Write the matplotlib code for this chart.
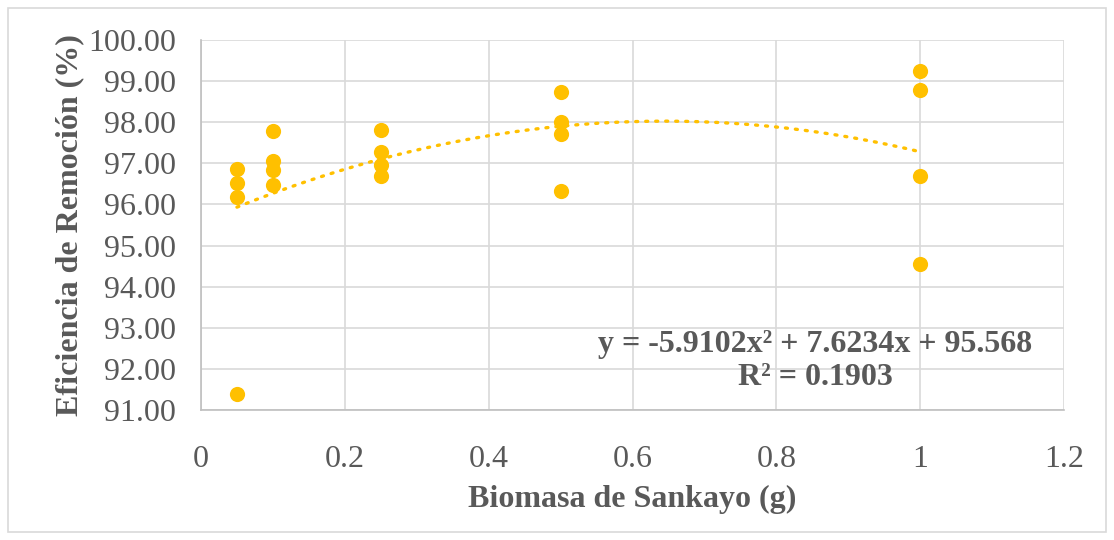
import matplotlib.pyplot as plt
import numpy as np
from matplotlib.patches import Rectangle
from matplotlib.ticker import FuncFormatter

# Biomasa (g) y eficiencia de remocion (%)
biomasa = [0.05, 0.05, 0.05, 0.05,
           0.1, 0.1, 0.1, 0.1,
           0.25, 0.25, 0.25, 0.25,
           0.5, 0.5, 0.5, 0.5,
           1.0, 1.0, 1.0, 1.0]
eficiencia = [96.86, 96.53, 96.19, 91.40,
              97.79, 97.05, 96.83, 96.48,
              97.82, 97.27, 96.97, 96.70,
              98.74, 98.00, 97.71, 96.33,
              99.24, 98.79, 96.70, 94.56]

# coeficientes de la linea de tendencia (polinomica grado 2)
coef = [-5.9102, 7.6234, 95.568]
r2 = 0.1903

x_ticks = [0, 0.2, 0.4, 0.6, 0.8, 1.0, 1.2]
y_ticks = [91, 92, 93, 94, 95, 96, 97, 98, 99, 100]

color = '#FFC000'
gris = '#595959'
plt.rcParams['font.family'] = ['Liberation Serif', 'DejaVu Serif']

fig = plt.figure(figsize=(11.14, 5.4), dpi=100)
ax = fig.add_axes([201 / 1114, 1 - 410 / 540, 863 / 1114, 370 / 540])

# borde exterior del grafico
fig.patches.append(Rectangle((8 / 1114, 8 / 540), 1098 / 1114, 524 / 540,
                             transform=fig.transFigure, fill=False,
                             edgecolor='#D9D9D9', linewidth=1.2))

xt = np.linspace(min(biomasa), max(biomasa), 200)
yt = np.polyval(coef, xt)
ax.plot(xt, yt, linestyle=(0, (0.6, 2.4)), color=color, linewidth=2.4,
        dash_capstyle='round', zorder=2)
ax.scatter(biomasa, eficiencia, s=120, color=color, zorder=3, linewidths=0)

ax.set_xlim(0, 1.2)
ax.set_ylim(91, 100)
ax.set_xticks(x_ticks)
ax.set_yticks(y_ticks)
ax.xaxis.set_major_formatter(FuncFormatter(lambda v, p: f'{v:g}'))
ax.yaxis.set_major_formatter(FuncFormatter(lambda v, p: f'{v:.2f}'))
ax.tick_params(length=0, labelsize=23, colors=gris)
ax.tick_params(axis='y', pad=18)
ax.tick_params(axis='x', pad=25)
ax.grid(True, color='#D9D9D9', linewidth=1.2)
ax.set_axisbelow(True)
for s in ax.spines.values():
    s.set_visible(False)
ax.spines['left'].set_visible(True)
ax.spines['left'].set_color('#BFBFBF')
ax.spines['left'].set_linewidth(1.2)
ax.spines['bottom'].set_visible(True)
ax.spines['bottom'].set_color('#BFBFBF')
ax.spines['bottom'].set_linewidth(1.2)

ax.set_xlabel('Biomasa de Sankayo (g)', fontsize=23, fontweight='bold', color=gris, labelpad=8)
ax.set_ylabel('Eficiencia de Remoción (%)', fontsize=23, fontweight='bold', color=gris, labelpad=3)

ax.text(0.712, 0.132, f'y = {coef[0]}x² + {coef[1]}x + {coef[2]}\nR² = {r2}',
        transform=ax.transAxes, ha='center', va='center', fontsize=23,
        fontweight='bold', color=gris, linespacing=1.2)

fig.savefig('out.png', dpi=100)
